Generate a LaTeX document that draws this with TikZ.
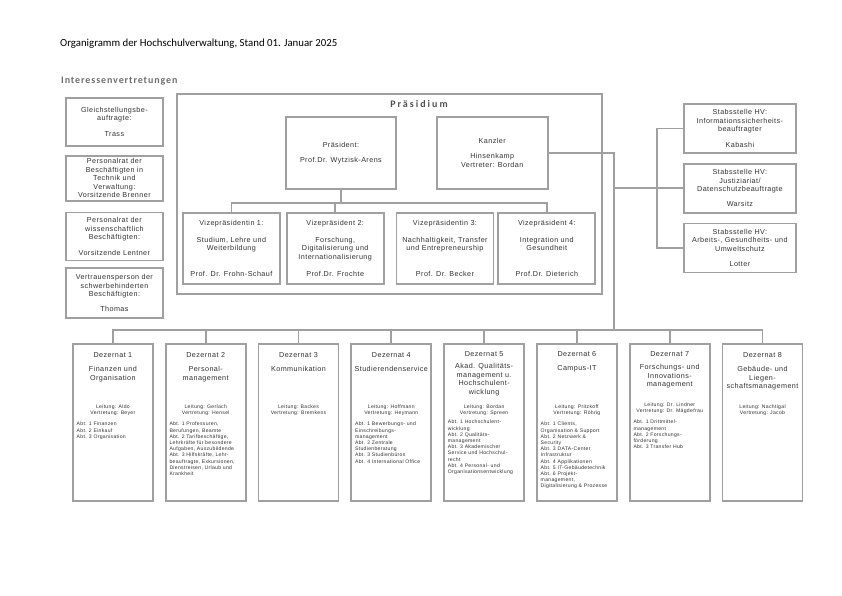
\documentclass[tikz,border=0pt]{standalone}
\usepackage{fontspec}
\setmainfont{Liberation Sans}
\newfontfamily\orgfont[LetterSpace=6]{Liberation Sans}
\newfontfamily\headfont{Carlito}
\newfontfamily\headfontsp[LetterSpace=9]{Carlito}
\newfontfamily\panelfont[LetterSpace=20]{Carlito}
\usepackage{tikz}
\usetikzlibrary{positioning,calc}

\definecolor{orgline}{RGB}{160,160,160}
\definecolor{orgtext}{RGB}{48,48,48}
\definecolor{headgray}{RGB}{110,110,110}
\definecolor{panelgray}{RGB}{80,80,80}

\tikzset{
  org box/.style={
    rectangle,
    draw=orgline,
    line width=1.8pt,
    inner sep=0pt,
    font=\orgfont\fontsize{7.2}{8.4}\selectfont,
    text=orgtext,
    align=center,
  },
  side box/.style={org box, minimum width=97pt},
  staff box/.style={org box, minimum width=112pt, minimum height=49pt},
  vp box/.style={org box, minimum width=97pt, minimum height=71pt},
  dez box/.style={org box, minimum width=80pt, minimum height=157pt},
  org text/.style={
    inner sep=0pt,
    font=\orgfont\fontsize{7.2}{8.4}\selectfont,
    text=orgtext,
    align=center,
  },
  small text/.style={
    inner sep=0pt,
    font=\orgfont\fontsize{5.1}{6.2}\selectfont,
    text=orgtext,
    align=center,
  },
  abt text/.style={small text, align=left, anchor=north west},
  page title/.style={inner sep=0pt, anchor=west, font=\headfont\fontsize{10.8}{12}\selectfont},
  section title/.style={inner sep=0pt, anchor=west, text=headgray,
    font=\headfontsp\bfseries\fontsize{10}{12}\selectfont},
  panel title/.style={inner sep=0pt, text=panelgray,
    font=\panelfont\bfseries\fontsize{10}{12}\selectfont},
  org line/.style={draw=orgline, line width=1.8pt},
}

\begin{document}
\begin{tikzpicture}[x=1pt, y=-1pt]
  \path[use as bounding box] (0,0) rectangle (842,595);

  \node[page title] (charttitle) at (60,44) {Organigramm der Hochschulverwaltung, Stand 01. Januar 2025};
  \node[section title] (ivtitle) at (61,81) {Interessenvertretungen};

  % Interessenvertretungen, left column
  \node[side box, minimum height=48pt, anchor=north west] (gleich) at (65,97)
    {Gleichstellungsbe-\\auftragte:\\[7pt]Trass};
  \node[side box, minimum height=45pt, below=8pt of gleich] (prtv)
    {Personalrat der\\Beschäftigten in\\Technik und\\Verwaltung:\\Vorsitzende Brenner};
  \node[side box, minimum height=48pt, below=10pt of prtv] (prwiss)
    {Personalrat der\\wissenschaftlich\\Beschäftigten:\\[7pt]Vorsitzende Lentner};
  \node[side box, minimum height=50pt, below=6pt of prwiss] (sbv)
    {Vertrauensperson der\\schwerbehinderten\\Beschäftigten:\\[7pt]Thomas};

  % Praesidium
  \node[org box, minimum width=425pt, minimum height=200pt, anchor=north west] (praes) at (176,93) {};
  \node[panel title] (praestitle) at (419,104) {Präsidium};

  \node[org box, minimum width=110pt, minimum height=72pt, anchor=north west] (pres) at (285,116)
    {Präsident:\\[7pt]Prof.Dr. Wytzisk-Arens};
  \node[org box, minimum width=111pt, minimum height=72pt, right=39pt of pres] (kanzler)
    {Kanzler\\[7pt]Hinsenkamp\\Vertreter: Bordan};

  \node[vp box, anchor=north west] (vp1) at (182,212) {};
  \node[vp box, right=5pt of vp1] (vp2) {};
  \node[vp box, right=11pt of vp2] (vp3) {};
  \node[vp box, right=3pt of vp3] (vp4) {};

  \node[org text, below=8pt of vp1.north] (vp1head) {Vizepräsidentin 1:};
  \node[org text, below=25pt of vp1.north] (vp1area) {Studium, Lehre und\\Weiterbildung};
  \node[org text, above=8pt of vp1.south] (vp1name) {Prof. Dr. Frohn-Schauf};

  \node[org text, below=8pt of vp2.north] (vp2head) {Vizepräsident 2:};
  \node[org text, below=25pt of vp2.north] (vp2area) {Forschung,\\Digitalisierung und\\Internationalisierung};
  \node[org text, above=8pt of vp2.south] (vp2name) {Prof.Dr. Frochte};

  \node[org text, below=8pt of vp3.north] (vp3head) {Vizepräsidentin 3:};
  \node[org text, below=25pt of vp3.north] (vp3area) {Nachhaltigkeit, Transfer\\und Entrepreneurship};
  \node[org text, above=8pt of vp3.south] (vp3name) {Prof. Dr. Becker};

  \node[org text, below=8pt of vp4.north] (vp4head) {Vizepräsident 4:};
  \node[org text, below=25pt of vp4.north] (vp4area) {Integration und\\Gesundheit};
  \node[org text, above=8pt of vp4.south] (vp4name) {Prof.Dr. Dieterich};

  % Stabsstellen, right column
  \node[staff box, anchor=north west] (stab1) at (683,103)
    {Stabsstelle HV:\\Informationssicherheits-\\beauftragter\\[7pt]Kabashi};
  \node[staff box, below=9pt of stab1] (stab2)
    {Stabsstelle HV:\\Justiziariat/\\Datenschutzbeauftragte\\[7pt]Warsitz};
  \node[staff box, below=9pt of stab2] (stab3)
    {Stabsstelle HV:\\Arbeits-, Gesundheits- und\\Umweltschutz\\[7pt]Lotter};

  % Dezernate
  \node[dez box, anchor=north west] (dez1) at (72,343) {};
  \node[dez box, right=11pt of dez1] (dez2) {};
  \node[dez box, right=11pt of dez2] (dez3) {};
  \node[dez box, right=11pt of dez3] (dez4) {};
  \node[dez box, right=11pt of dez4] (dez5) {};
  \node[dez box, right=11pt of dez5] (dez6) {};
  \node[dez box, right=11pt of dez6] (dez7) {};
  \node[dez box, right=11pt of dez7] (dez8) {};

  \node[org text, below=9pt of dez1.north] (dez1head) {Dezernat 1};
  \node[org text, below=9pt of dez1head] (dez1title) {Finanzen und\\Organisation};
  \node[small text] (dez1lead) at ([yshift=-67pt]dez1.north) {Leitung: Aldo\\Vertretung: Beyer};
  \node[abt text] (dez1abt) at ([xshift=4.5pt,yshift=-79pt]dez1.north west)
    {Abt. 1 Finanzen\\Abt. 2 Einkauf\\Abt. 3 Organisation};

  \node[org text, below=9pt of dez2.north] (dez2head) {Dezernat 2};
  \node[org text, below=9pt of dez2head] (dez2title) {Personal-\\management};
  \node[small text] (dez2lead) at ([yshift=-67pt]dez2.north) {Leitung: Gerlach\\Vertretung: Hensel};
  \node[abt text] (dez2abt) at ([xshift=4.5pt,yshift=-79pt]dez2.north west)
    {Abt. 1 Professuren,\\Berufungen, Beamte\\Abt. 2 Tarifbeschäftige,\\Lehrkräfte für besondere\\Aufgaben, Auszubildende\\Abt. 3 Hilfskräfte, Lehr-\\beauftragte, Exkursionen,\\Dienstreisen, Urlaub und\\Krankheit};

  \node[org text, below=9pt of dez3.north] (dez3head) {Dezernat 3};
  \node[org text, below=9pt of dez3head] (dez3title) {Kommunikation};
  \node[small text] (dez3lead) at ([yshift=-67pt]dez3.north) {Leitung: Backes\\Vertretung: Bremkens};

  \node[org text, below=9pt of dez4.north] (dez4head) {Dezernat 4};
  \node[org text, below=9pt of dez4head] (dez4title) {Studierendenservice};
  \node[small text] (dez4lead) at ([yshift=-67pt]dez4.north) {Leitung: Hoffmann\\Vertretung: Heymann};
  \node[abt text] (dez4abt) at ([xshift=4.5pt,yshift=-79pt]dez4.north west)
    {Abt. 1 Bewerbungs- und\\Einschreibungs-\\management\\Abt. 2 Zentrale\\Studienberatung\\Abt. 3 Studienbüros\\Abt. 4 International Office};

  \node[org text, below=8pt of dez5.north] (dez5head) {Dezernat 5};
  \node[org text, below=7pt of dez5head] (dez5title) {Akad. Qualitäts-\\management u.\\Hochschulent-\\wicklung};
  \node[small text] (dez5lead) at ([yshift=-67pt]dez5.north) {Leitung: Bordan\\Vertretung: Spreen};
  \node[abt text] (dez5abt) at ([xshift=4.5pt,yshift=-77pt]dez5.north west)
    {Abt. 1 Hochschulent-\\wicklung\\Abt. 2 Qualitäts-\\management\\Abt. 3 Akademischer\\Service und Hochschul-\\recht\\Abt. 4 Personal- und\\Organisationsentwicklung};

  \node[org text, below=8pt of dez6.north] (dez6head) {Dezernat 6};
  \node[org text, below=9pt of dez6head] (dez6title) {Campus-IT};
  \node[small text] (dez6lead) at ([yshift=-67pt]dez6.north) {Leitung: Pritzkoff\\Vertretung: Röhrig};
  \node[abt text] (dez6abt) at ([xshift=4.5pt,yshift=-79pt]dez6.north west)
    {Abt. 1 Clients,\\Organisation \& Support\\Abt. 2 Netzwerk \&\\Security\\Abt. 3 DATA-Center\\Infrastruktur\\Abt. 4 Applikationen\\Abt. 5 IT-Gebäudetechnik\\Abt. 6 Projekt-\\management,\\Digitalisierung \& Prozesse};

  \node[org text, below=8pt of dez7.north] (dez7head) {Dezernat 7};
  \node[org text, below=8pt of dez7head] (dez7title) {Forschungs- und\\Innovations-\\management};
  \node[small text] (dez7lead) at ([yshift=-65pt]dez7.north) {Leitung: Dr. Lindner\\Vertretung: Dr. Mägdefrau};
  \node[abt text] (dez7abt) at ([xshift=4.5pt,yshift=-77pt]dez7.north west)
    {Abt. 1 Drittmittel-\\management\\Abt. 2 Forschungs-\\förderung\\Abt. 3 Transfer Hub};

  \node[org text, below=9pt of dez8.north] (dez8head) {Dezernat 8};
  \node[org text, below=9pt of dez8head] (dez8title) {Gebäude- und\\Liegen-\\schaftsmanagement};
  \node[small text] (dez8lead) at ([yshift=-67pt]dez8.north) {Leitung: Nachtigal\\Vertretung: Jacob};

  % connectors inside the Praesidium
  \coordinate (vpjoin) at ([yshift=-13pt]pres.south);
  \draw[org line] (pres.south) -- (vpjoin);
  \draw[org line] (vp1.north) |- (vpjoin);
  \draw[org line] (vp4.north) |- (vpjoin);
  \draw[org line] (vp2.north) -- (vp2.north |- vpjoin);

  % Kanzler to Stabsstellen and Dezernate
  \coordinate (hvjoin) at (614,330);
  \coordinate (stabjoin) at (657,188);
  \draw[org line] (kanzler.east) -| (hvjoin);
  \draw[org line] (stab2.west -| hvjoin) -- (stab2.west);
  \draw[org line] (stab1.west) -| (stabjoin) |- (stab3.west);

  \draw[org line] (dez1.north) |- (hvjoin);
  \draw[org line] (dez8.north) |- (hvjoin);
  \draw[org line] (dez2.north) -- (dez2.north |- hvjoin);
  \draw[org line] (dez3.north) -- (dez3.north |- hvjoin);
  \draw[org line] (dez4.north) -- (dez4.north |- hvjoin);
  \draw[org line] (dez5.north) -- (dez5.north |- hvjoin);
  \draw[org line] (dez6.north) -- (dez6.north |- hvjoin);
  \draw[org line] (dez7.north) -- (dez7.north |- hvjoin);
\end{tikzpicture}
\end{document}
